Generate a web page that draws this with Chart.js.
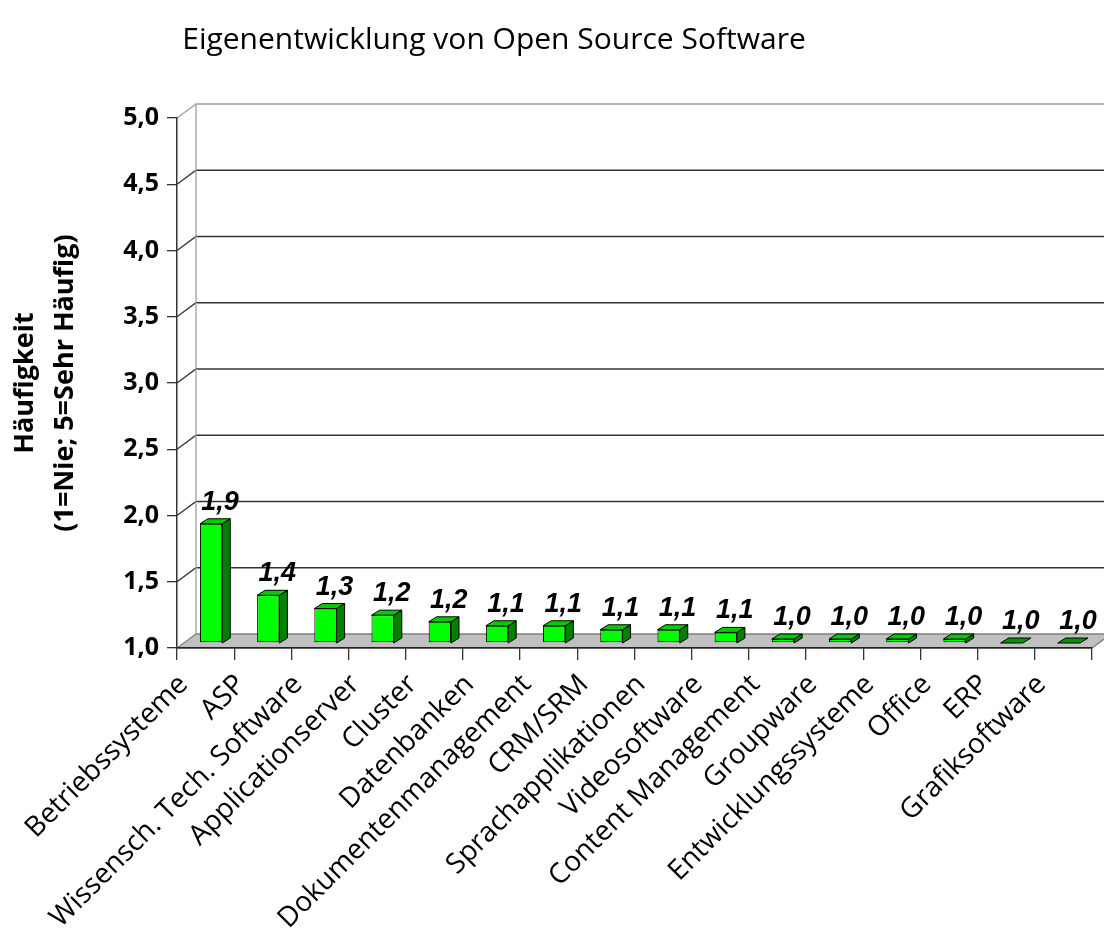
<!DOCTYPE html>
<html>
<head>
<meta charset="utf-8">
<script src="https://cdn.jsdelivr.net/npm/chart.js@4.4.0/dist/chart.umd.min.js"></script>
<style>
  html, body { margin: 0; padding: 0; background: #fff; }
  #wrap { width: 1104px; height: 942px; }
</style>
</head>
<body>
<div id="wrap"><canvas id="myChart" width="1104" height="942"></canvas></div>
<script>
let categories = ['Betriebssysteme', 'ASP', 'Wissensch. Tech. Software', 'Applicationserver', 'Cluster',
    'Datenbanken', 'Dokumentenmanagement', 'CRM/SRM', 'Sprachapplikationen', 'Videosoftware',
    'Content Management', 'Groupware', 'Entwicklungssysteme', 'Office', 'ERP', 'Grafiksoftware'];
let values = [1.90, 1.36, 1.26, 1.21, 1.16, 1.13, 1.13, 1.10, 1.10, 1.08, 1.03, 1.03, 1.03, 1.03, 1.00, 1.00];
let yTicks = [1.0, 1.5, 2.0, 2.5, 3.0, 3.5, 4.0, 4.5, 5.0];
let chartTitle = 'Eigenentwicklung von Open Source Software';
let yTitle = ['Häufigkeit', '(1=Nie; 5=Sehr Häufig)'];

// german decimal comma
const fmt = v => Number(v).toFixed(1).replace('.', ',');

// offsets for the fake 3d look
const wallDepth = { dx: 19, dy: -14 };
const barDepth = { dx: 8, dy: -5 };
const barShift = { dx: 5.5, dy: -5 };

const pseudo3d = {
    id: 'pseudo3d',
    beforeDraw(chart) {
        const { ctx, chartArea: a, scales: { y } } = chart;
        const y0 = y.getPixelForValue(yTicks[0]);
        ctx.save();
        ctx.lineWidth = 1.3;

        // floor
        ctx.fillStyle = '#c0c0c0';
        ctx.beginPath();
        ctx.moveTo(a.left, y0);
        ctx.lineTo(a.right, y0);
        ctx.lineTo(a.right + wallDepth.dx, y0 + wallDepth.dy);
        ctx.lineTo(a.left + wallDepth.dx, y0 + wallDepth.dy);
        ctx.closePath();
        ctx.fill();
        ctx.strokeStyle = '#808080';
        ctx.stroke();

        // grid lines on the back wall
        yTicks.slice(1).forEach((t, i) => {
            const py = y.getPixelForValue(t);
            ctx.strokeStyle = i === yTicks.length - 2 ? '#a0a0a0' : '#333';
            ctx.beginPath();
            ctx.moveTo(a.left, py);
            ctx.lineTo(a.left + wallDepth.dx, py + wallDepth.dy);
            ctx.lineTo(chart.width, py + wallDepth.dy);
            ctx.stroke();
        });

        // left edge of the back wall
        ctx.strokeStyle = '#a0a0a0';
        ctx.beginPath();
        ctx.moveTo(a.left + wallDepth.dx, y.getPixelForValue(yTicks[yTicks.length - 1]) + wallDepth.dy);
        ctx.lineTo(a.left + wallDepth.dx, y0 + wallDepth.dy);
        ctx.stroke();
        ctx.restore();
    },
    beforeDatasetsDraw(chart) {
        chart.ctx.save();
        chart.ctx.translate(barShift.dx, barShift.dy);
    },
    afterDatasetsDraw(chart) {
        const ctx = chart.ctx;
        const bars = chart.getDatasetMeta(0).data;
        const base = chart.scales.y.getPixelForValue(yTicks[0]);
        ctx.lineWidth = 1;
        ctx.strokeStyle = '#000';
        ctx.lineJoin = 'round';
        bars.forEach(bar => {
            const { x, y, width } = bar.getProps(['x', 'y', 'width'], true);
            const l = x - width / 2, r = x + width / 2;
            const dx = barDepth.dx, dy = barDepth.dy;
            const tall = base - y > 0.5;
            // side
            if (tall) {
                ctx.fillStyle = '#008000';
                ctx.beginPath();
                ctx.moveTo(r, y);
                ctx.lineTo(r + dx, y + dy);
                ctx.lineTo(r + dx, base + dy);
                ctx.lineTo(r, base);
                ctx.closePath();
                ctx.fill();
                ctx.stroke();
            }
            // top
            ctx.fillStyle = tall ? '#00cc00' : '#009900';
            ctx.beginPath();
            ctx.moveTo(l, y);
            ctx.lineTo(l + dx, y + dy);
            ctx.lineTo(r + dx, y + dy);
            ctx.lineTo(r, y);
            ctx.closePath();
            ctx.fill();
            ctx.stroke();
        });
        ctx.restore();

        // value labels
        ctx.save();
        ctx.font = 'italic bold 27px "Liberation Sans", Arial, sans-serif';
        ctx.fillStyle = '#000';
        ctx.textAlign = 'center';
        ctx.textBaseline = 'alphabetic';
        bars.forEach((bar, i) => {
            const { x, y } = bar.getProps(['x', 'y'], true);
            ctx.fillText(fmt(values[i]), x + barShift.dx + 9, y + barShift.dy - 14);
        });
        ctx.restore();
    },
    afterDraw(chart) {
        const ctx = chart.ctx;
        ctx.save();
        ctx.font = '30px "Open Sans", sans-serif';
        ctx.fillStyle = '#000';
        ctx.textAlign = 'center';
        ctx.textBaseline = 'middle';
        ctx.fillText(chartTitle, 494, 40);
        ctx.restore();
    }
};

let ctxMain = document.getElementById('myChart').getContext('2d');

let chart = new Chart(ctxMain, {
    type: 'bar',
    data: {
        labels: categories,
        datasets: [{
            data: values,
            base: 1,
            backgroundColor: '#00ff00',
            borderColor: '#000',
            borderWidth: 1,
            borderSkipped: false,
            barPercentage: 0.39,
            categoryPercentage: 1
        }]
    },
    options: {
        responsive: false,
        animation: false,
        layout: { padding: { top: 118, right: 12, left: 0, bottom: 0 } },
        plugins: {
            legend: { display: false },
            tooltip: { enabled: false }
        },
        scales: {
            x: {
                afterFit: s => { s.height = 294; },
                grid: { offset: true, drawOnChartArea: false, tickLength: 12, color: '#333', lineWidth: 1.3 },
                border: { color: '#222', width: 1.5 },
                ticks: {
                    autoSkip: false,
                    minRotation: 45,
                    maxRotation: 45,
                    padding: 8,
                    labelOffset: -22,
                    color: '#000',
                    font: { family: '"Open Sans", sans-serif', size: 28 }
                }
            },
            y: {
                min: 1,
                max: 5,
                afterFit: s => { s.width = 177; },
                afterBuildTicks: s => { s.ticks = yTicks.map(v => ({ value: v })); },
                grid: { drawOnChartArea: false, tickLength: 10, color: '#333', lineWidth: 1.3 },
                border: { color: '#333', width: 1.5 },
                ticks: {
                    padding: 8,
                    color: '#000',
                    font: { family: '"Open Sans", sans-serif', size: 25, weight: 'bold' },
                    callback: v => fmt(v)
                },
                title: {
                    display: true,
                    text: yTitle,
                    color: '#000',
                    font: { family: '"Open Sans", sans-serif', size: 27, weight: 'bold', lineHeight: 1.5 },
                    padding: { top: 5, bottom: 0 }
                }
            }
        }
    },
    plugins: [pseudo3d]
});
</script>
</body>
</html>
